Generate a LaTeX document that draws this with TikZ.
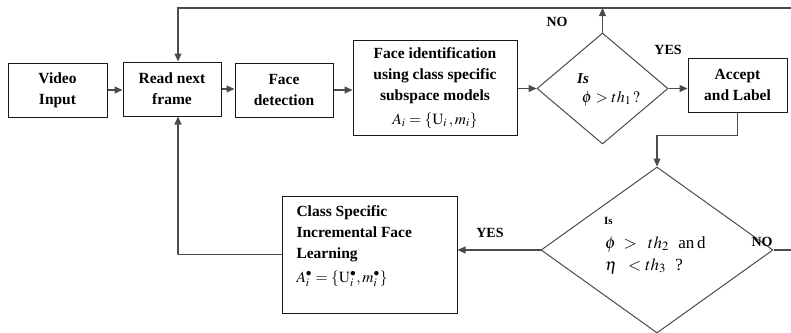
\documentclass[tikz,border=0pt]{standalone}
\usepackage{mathptmx}
\usepackage{fontspec}
\setmainfont{Liberation Serif}
\usepackage{tikz}
\usetikzlibrary{shapes.geometric,arrows.meta}
\definecolor{FlowBlack}{RGB}{25,25,25}
\definecolor{FlowGray}{RGB}{75,75,75}

\tikzset{
  block/.style={draw=FlowBlack, line width=1pt, inner sep=0pt, align=center,
    font=\fontsize{15.5}{21}\selectfont\bfseries},
  decision/.style={draw=FlowGray, line width=1pt, diamond, inner sep=0pt},
  flow/.style={draw=FlowGray, line width=1.1pt, -{Triangle[length=8pt,width=7pt]}},
  wire/.style={draw=FlowGray, line width=1.1pt},
  answer/.style={font=\fontsize{14}{16}\selectfont\bfseries, inner sep=0pt},
  cond/.style={font=\fontsize{16}{22}\selectfont, inner sep=0pt, align=left}
}

\begin{document}
\begin{tikzpicture}[x=1pt,y=-1pt]
  \useasboundingbox (0,0) rectangle (791,332);

  % top row
  \node[block, minimum width=99pt, minimum height=54pt] (video) at (57.5,90) {Video\\Input};
  \node[block, minimum width=98pt, minimum height=54pt] (read) at (172,89) {Read next\\frame};
  \node[block, minimum width=98pt, minimum height=54pt] (detect) at (284,90) {Face\\detection};
  \node[block, minimum width=164pt, minimum height=95pt] (ident) at (435,88) {Face identification\\using class specific\\subspace models\\[3pt]
    \mdseries $A_i = \{\mathrm{U}_i\,, m_i\}$};
  \node[decision, minimum width=131pt, minimum height=111pt] (test1) at (602.5,88.5) {};
  \node[font=\fontsize{15}{18}\selectfont\bfseries\itshape, inner sep=0pt] (is1) at (583,79) {Is};
  \node[cond] (cond1) at (611,98.5) {$\phi > th_1\,?$};
  \node[block, minimum width=99pt, minimum height=54pt] (accept) at (737.5,85) {Accept\\and Label};

  % bottom row
  \node[decision, minimum width=232pt, minimum height=166pt] (test2) at (657,250) {};
  \node[font=\fontsize{11}{12}\selectfont\bfseries, inner sep=0pt, anchor=west] (is2) at (604,221) {Is};
  \node[cond, font=\fontsize{17}{22}\selectfont, anchor=west] (cond2) at (605,255)
    {$\phi\; >\;\; th_2$\;\;an\,d\\$\eta\;\; < th_3$\;\;?};
  \node[block, minimum width=175pt, minimum height=117pt] (learn) at (369.5,254.5) {};
  \node[block, draw=none, align=left, anchor=north west] (learntxt) at (296,205) {Class Specific\\Incremental Face\\Learning\\[3pt]
    \mdseries $A_i^{\bullet} = \{\mathrm{U}_i^{\bullet}, m_i^{\bullet}\}$};

  % loose ends of the loops
  \coordinate (topR) at (791,8);
  \coordinate (rightR) at (791,250);

  \draw[flow] (video.east |- 0,90) -- (read.west |- 0,90);
  \draw[flow] (read) -- (detect.west |- read);
  \draw[flow] (detect.east) -- (detect.east -| ident.west);
  \draw[flow] (ident.east |- test1) -- (test1.west);
  \draw[flow] (test1.east) -- (test1.east -| accept.west);
  \draw[flow] (test1.north) -- (test1.north |- topR);
  \draw[flow] (topR) -| ([xshift=6pt]read.north);
  \draw[flow] (accept.south) -- ++(0,23) -| (test2.north);
  \draw[flow] (test2.west) -- (test2.west -| learn.east);
  \draw[flow] (learn.west) -- ++(-104,0) -| ([xshift=6pt]read.south);
  \draw[wire] (test2.east) -- (rightR);

  % answers
  \node[answer] (no1) at (557,22) {NO};
  \node[answer] (yes1) at (668,50) {YES};
  \node[answer] (yes2) at (490,233) {YES};
  \node[answer] (no2) at (762,242) {NO};
\end{tikzpicture}
\end{document}
